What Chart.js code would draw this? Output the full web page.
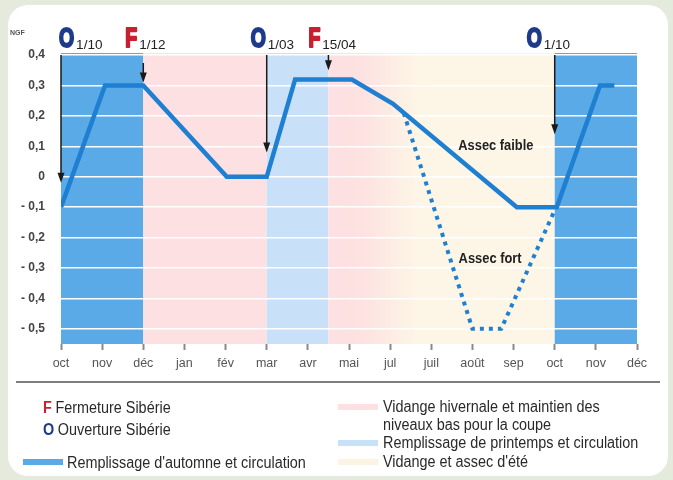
<!DOCTYPE html>
<html>
<head>
<meta charset="utf-8">
<script src="https://cdn.jsdelivr.net/npm/chart.js@4.4.1/dist/chart.umd.min.js"></script>
<style>
  body { margin: 0; width: 673px; height: 480px; overflow: hidden; background: #e4ebdd;
         font-family: "Liberation Sans", Arial, sans-serif; }
  #card { position: absolute; left: 8px; top: 5px; width: 660px; height: 471px; background: #fff; border-radius: 20px; }
  #levelChart { position: absolute; left: 0; top: 0; }
  .rule { position: absolute; left: 16px; top: 381px; width: 644px; height: 2px; background: #7d7d7d; }
  .lg { position: absolute; font-size: 16px; color: #2a2a2a; white-space: nowrap; line-height: 17px;
        transform: scaleX(0.9); transform-origin: left center; }
  .lg b { margin-right: 4px; }
  .sw { position: absolute; width: 40px; height: 6px; }
</style>
</head>
<body>
<div id="card"></div>
<canvas id="levelChart" width="673" height="480"></canvas>
<div class="rule"></div>

<div class="lg" style="left:43px;top:399px"><b style="color:#c8202e">F</b>Fermeture Sibérie</div>
<div class="lg" style="left:43px;top:421px"><b style="color:#1e3a8a">O</b>Ouverture Sibérie</div>
<div class="sw" style="left:23px;top:459px;background:#5aaae8"></div>
<div class="lg" style="left:67px;top:454px">Remplissage d'automne et circulation</div>

<div class="sw" style="left:338px;top:404px;background:#fde0e2"></div>
<div class="lg" style="left:383px;top:398px">Vidange hivernale et maintien des</div>
<div class="lg" style="left:383px;top:416px">niveaux bas pour la coupe</div>
<div class="sw" style="left:338px;top:440px;background:#c8e0f8"></div>
<div class="lg" style="left:383px;top:434px">Remplissage de printemps et circulation</div>
<div class="sw" style="left:338px;top:459px;background:#fdf3e2"></div>
<div class="lg" style="left:383px;top:453px">Vidange et assec d'été</div>

<script>
// months along the x axis (one tick per month, oct -> déc of next year)
const months = ['oct', 'nov', 'déc', 'jan', 'fév', 'mar', 'avr', 'mai', 'jul', 'juil', 'août', 'sep', 'oct', 'nov', 'déc'];
const yTicks = [0.4, 0.3, 0.2, 0.1, 0, -0.1, -0.2, -0.3, -0.4, -0.5];

// water level, low drying ("Assec faible") - x in months since 1 oct
const levelX = [0, 1.07, 2, 4.03, 5, 5.69, 7.07, 8.07, 11.08, 12.05, 13.1, 13.45];
const levelY = [-0.1, 0.3, 0.3, 0, 0, 0.32, 0.32, 0.24, -0.1, -0.1, 0.3, 0.3];

// strong drying branch ("Assec fort")
const dryX = [8.33, 10, 10.7, 12];
const dryY = [0.21, -0.5, -0.5, -0.11];

// periods shown as background bands
const bandFrom = [0, 2, 5, 6.5, 12];
const bandTo = [2, 5, 6.5, 12, 14];
const bandKind = ['autumn', 'winter', 'spring', 'summer', 'autumn'];

// opening / closing of the Sibérie
const markX = [0, 2, 5, 6.5, 12];
const markTip = [-0.02, 0.31, 0.08, 0.35, 0.14];
const markLetter = ['O', 'F', 'O', 'F', 'O'];
const markDate = ['1/10', '1/12', '1/03', '15/04', '1/10'];

const FONT = '"Liberation Sans", Arial, sans-serif';
const BLUE = '#1f7fd0';

const bandsPlugin = {
    id: 'bands',
    beforeDraw(chart) {
        const { ctx, chartArea, scales } = chart;
        const colors = { autumn: '#5aaae8', winter: '#fde0e2', spring: '#c8e0f8' };
        ctx.save();
        bandFrom.forEach((from, i) => {
            const x0 = scales.x.getPixelForValue(from);
            const x1 = scales.x.getPixelForValue(bandTo[i]);
            if (bandKind[i] === 'summer') {
                // pink fading into the cream of the summer drying
                const g = ctx.createLinearGradient(x0, 0, x1, 0);
                g.addColorStop(0, '#fde0e2');
                g.addColorStop(0.15, '#fde2e1');
                g.addColorStop(0.4, '#fdf6e6');
                g.addColorStop(1, '#fdf6e6');
                ctx.fillStyle = g;
            } else {
                ctx.fillStyle = colors[bandKind[i]];
            }
            ctx.fillRect(x0, chartArea.top, x1 - x0, chartArea.bottom - chartArea.top);
        });
        ctx.restore();
    }
};

// condensed text: squeeze horizontally like the original narrow typeface
function narrowText(ctx, text, x, y, sx, thick) {
    ctx.save();
    ctx.translate(x, y);
    ctx.scale(sx, 1);
    ctx.fillText(text, 0, 0);
    if (thick) {
        ctx.strokeStyle = ctx.fillStyle;
        ctx.lineWidth = thick;
        ctx.lineJoin = 'round';
        ctx.strokeText(text, 0, 0);
    }
    ctx.restore();
    return ctx.measureText(text).width * sx;
}

const marksPlugin = {
    id: 'marks',
    afterDatasetsDraw(chart) {
        const { ctx, chartArea, scales } = chart;
        const letterShift = [-2, -18, -16, -20, -28]; // letter left edge relative to arrow
        ctx.save();
        markX.forEach((m, i) => {
            const x = scales.x.getPixelForValue(m);
            const tip = scales.y.getPixelForValue(markTip[i]);
            const top = i === 1 ? chartArea.top + 10 : chartArea.top + 2;
            // arrow shaft
            ctx.strokeStyle = '#1a1a1a';
            ctx.lineWidth = 1.5;
            ctx.beginPath();
            ctx.moveTo(x, top);
            ctx.lineTo(x, tip - 8);
            ctx.stroke();
            // arrow head
            ctx.fillStyle = '#1a1a1a';
            ctx.beginPath();
            ctx.moveTo(x - 3.5, tip - 10);
            ctx.lineTo(x + 3.5, tip - 10);
            ctx.lineTo(x, tip);
            ctx.closePath();
            ctx.fill();
            // label: big letter + date as subscript
            const lx = x + letterShift[i];
            ctx.textBaseline = 'alphabetic';
            ctx.textAlign = 'left';
            ctx.font = 'bold 27px ' + FONT;
            ctx.fillStyle = markLetter[i] === 'F' ? '#c8202e' : '#1e3a8a';
            const w = narrowText(ctx, markLetter[i], lx, 47, 0.72, 2.2);
            ctx.font = '13.5px ' + FONT;
            ctx.fillStyle = '#222';
            ctx.fillText(markDate[i], lx + w + 2, 49);
        });

        // axis unit
        ctx.font = 'bold 7px ' + FONT;
        ctx.fillStyle = '#555';
        ctx.textAlign = 'left';
        ctx.fillText('NGF', 10, 35);

        // curve names
        ctx.font = 'bold 14px ' + FONT;
        ctx.fillStyle = '#222';
        ctx.textAlign = 'center';
        ctx.textBaseline = 'middle';
        narrowText(ctx, 'Assec faible', scales.x.getPixelForValue(10.57), scales.y.getPixelForValue(0.1), 0.92);
        narrowText(ctx, 'Assec fort', scales.x.getPixelForValue(10.43), scales.y.getPixelForValue(-0.27), 0.92);
        ctx.restore();
    }
};

function fmtLevel(v) {
    if (Math.abs(v) < 1e-9) return '0';
    return (v < 0 ? '- ' : '') + Math.abs(v).toFixed(1).replace('.', ',');
}

const ctx = document.getElementById('levelChart').getContext('2d');
new Chart(ctx, {
    type: 'line',
    data: {
        datasets: [{
            label: 'Assec faible',
            data: levelX.map((x, i) => ({ x: x, y: levelY[i] })),
            borderColor: BLUE,
            borderWidth: 4.5,
            pointRadius: 0,
            tension: 0
        }, {
            label: 'Assec fort',
            data: dryX.map((x, i) => ({ x: x, y: dryY[i] })),
            borderColor: BLUE,
            borderWidth: 4,
            borderDash: [4, 5],
            pointRadius: 0,
            tension: 0
        }]
    },
    options: {
        responsive: false,
        animation: false,
        layout: { padding: { left: 10, top: 53, right: 36, bottom: 106 } },
        plugins: {
            legend: { display: false },
            tooltip: { enabled: false }
        },
        scales: {
            x: {
                type: 'linear',
                min: 0,
                max: 14,
                afterBuildTicks: (s) => { s.ticks = months.map((m, i) => ({ value: i })); },
                afterFit: (s) => { s.height = 30; },
                ticks: {
                    callback: (v, i) => months[i],
                    autoSkip: false,
                    maxRotation: 0,
                    padding: 6,
                    color: '#555',
                    font: { family: FONT, size: 12.5 }
                },
                grid: { drawOnChartArea: false, tickLength: 6, tickColor: '#8a8a8a', tickWidth: 2 },
                border: { display: false }
            },
            y: {
                min: -0.55,
                max: 0.407,
                afterBuildTicks: (s) => { s.ticks = yTicks.map((v) => ({ value: v })); },
                afterFit: (s) => { s.width = 51; },
                ticks: {
                    callback: (v) => fmtLevel(v),
                    padding: 16,
                    color: '#444',
                    font: { family: FONT, size: 12, weight: 'bold' }
                },
                grid: { color: '#ffffff', lineWidth: 1.5, drawTicks: false },
                border: { display: false }
            }
        }
    },
    plugins: [bandsPlugin, marksPlugin]
});
</script>
</body>
</html>
